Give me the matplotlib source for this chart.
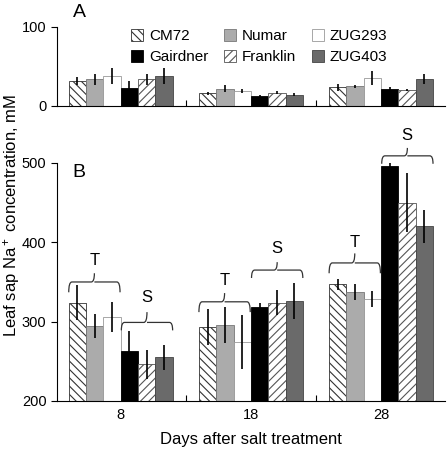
import numpy as np
import matplotlib.pyplot as plt
from matplotlib.path import Path
from matplotlib.patches import PathPatch

plt.rcParams['font.family'] = ['Liberation Sans', 'DejaVu Sans']
plt.rcParams['mathtext.fontset'] = 'custom'
plt.rcParams['mathtext.rm'] = 'Liberation Sans'
plt.rcParams['mathtext.it'] = 'Liberation Sans'
plt.rcParams['hatch.linewidth'] = 0.8

days = ['8', '18', '28']
cultivars = ['CM72', 'Numar', 'ZUG293', 'Gairdner', 'Franklin', 'ZUG403']

# Panel A (mM)
a_mean = {
    'CM72':     [31.5, 16, 23.5],
    'Numar':    [33.5, 22, 25],
    'ZUG293':   [38, 19, 35],
    'Gairdner': [23, 12.5, 21.5],
    'Franklin': [33.5, 17, 20],
    'ZUG403':   [38, 14, 34],
}
a_err = {
    'CM72':     [5, 1.5, 4],
    'Numar':    [7, 4, 2],
    'ZUG293':   [10, 3, 9],
    'Gairdner': [9, 2, 2],
    'Franklin': [7, 1.5, 1],
    'ZUG403':   [10, 2, 6],
}

# Panel B (mM)
b_mean = {
    'CM72':     [324, 293, 347],
    'Numar':    [294, 296, 337],
    'ZUG293':   [306, 274, 329],
    'Gairdner': [263, 319, 496],
    'Franklin': [246, 324, 450],
    'ZUG403':   [255, 326, 420],
}
b_err = {
    'CM72':     [22, 23, 7],
    'Numar':    [15, 23, 10],
    'ZUG293':   [19, 34, 10],
    'Gairdner': [25, 5, 5],
    'Franklin': [18, 16, 37],
    'ZUG403':   [16, 23, 21],
}

# brace heights per group: (ends, flat, tip, label) for T then S
t_brace = [(337, 350, 361, 377), (312, 325, 336, 352), (361, 374, 386, 400)]
s_brace = [(289, 299, 312, 330), (355, 365, 375, 392), (499, 509, 519, 535)]

styles = {
    'CM72':     dict(color='white', hatch='\\\\\\\\', edgecolor='#333333'),
    'Numar':    dict(color='#ababab', edgecolor='#777777'),
    'ZUG293':   dict(color='white', edgecolor='#999999'),
    'Gairdner': dict(color='black', edgecolor='black'),
    'Franklin': dict(color='white', hatch='////', edgecolor='#555555'),
    'ZUG403':   dict(color='#6a6a6a', edgecolor='#444444'),
}

fig = plt.figure(figsize=(4.48, 4.49), dpi=100)
axA = fig.add_axes([0.127, 0.764, 0.866, 0.176])
axB = fig.add_axes([0.127, 0.107, 0.866, 0.530])

x = np.arange(len(days))
w = 0.133


def draw_bars(ax, mean, err):
    handles = []
    for i, c in enumerate(cultivars):
        pos = x + (i - 2.5) * w
        st = styles[c]
        b = ax.bar(pos, mean[c], w, color=st['color'], edgecolor=st['edgecolor'],
                   hatch=st.get('hatch'), linewidth=0.6, label=c)
        ax.errorbar(pos, mean[c], yerr=err[c], fmt='none', ecolor='black',
                    elinewidth=1.2, capsize=0)
        handles.append(b)
    ax.set_xlim(-0.49, 2.49)
    ax.spines['top'].set_visible(False)
    ax.spines['right'].set_visible(False)
    ax.set_xticks([0.5, 1.5])
    ax.tick_params(axis='x', direction='in', length=4, labelbottom=False)
    ax.tick_params(axis='y', direction='out', length=4, labelsize=10.5)
    return handles


def brace(ax, x0, x1, y0, y1, y2):
    xm = (x0 + x1) / 2
    d = 0.012
    verts = [(x0, y0), (x0, y1), (x0 + d * 2, y1),
             (xm - d * 2, y1), (xm, y1), (xm, y2),
             (xm, y1), (xm + d * 2, y1),
             (x1 - d * 2, y1), (x1, y1), (x1, y0)]
    codes = [Path.MOVETO, Path.CURVE3, Path.CURVE3,
             Path.LINETO, Path.CURVE3, Path.CURVE3,
             Path.MOVETO, Path.LINETO,
             Path.LINETO, Path.CURVE3, Path.CURVE3]
    ax.add_patch(PathPatch(Path(verts, codes), fill=False, lw=0.9,
                           edgecolor='#333333', clip_on=False))


h = draw_bars(axA, a_mean, a_err)
axA.set_ylim(0, 100)
axA.set_yticks([0, 100])
order = [0, 3, 1, 4, 2, 5]
axA.legend([h[i] for i in order], [cultivars[i] for i in order], ncol=3,
           frameon=False, fontsize=11, loc='upper left', bbox_to_anchor=(0.155, 1.15),
           handlelength=0.8, handleheight=0.8, handletextpad=0.4,
           columnspacing=1.0, labelspacing=0.45)
fig.text(0.178, 0.972, 'A', fontsize=14, va='center', ha='center')

draw_bars(axB, b_mean, b_err)
axB.set_ylim(200, 500)
axB.set_yticks([200, 300, 400, 500])
axB.set_xticks([0, 1, 2], minor=True)
axB.set_xticklabels(days, minor=True)
axB.tick_params(axis='x', which='minor', length=0, labelsize=10.5, pad=5,
                labelbottom=True)
axB.text(0.04, 0.96, 'B', transform=axB.transAxes, fontsize=14, va='center')

for g in range(len(days)):
    y0, y1, y2, yl = t_brace[g]
    brace(axB, g - 3 * w, g - 0.005, y0, y1, y2)
    axB.text(g - 1.5 * w, yl, 'T', ha='center', va='center', fontsize=12)
    y0, y1, y2, yl = s_brace[g]
    brace(axB, g + 0.005, g + 3 * w, y0, y1, y2)
    axB.text(g + 1.5 * w, yl, 'S', ha='center', va='center', fontsize=12, clip_on=False)

axB.set_xlabel('Days after salt treatment', fontsize=12, labelpad=7)
fig.text(0.025, 0.52, 'Leaf sap Na$^+$ concentration, mM', rotation=90,
         fontsize=12, ha='center', va='center')

plt.savefig('out.png', dpi=100)
plt.close()
